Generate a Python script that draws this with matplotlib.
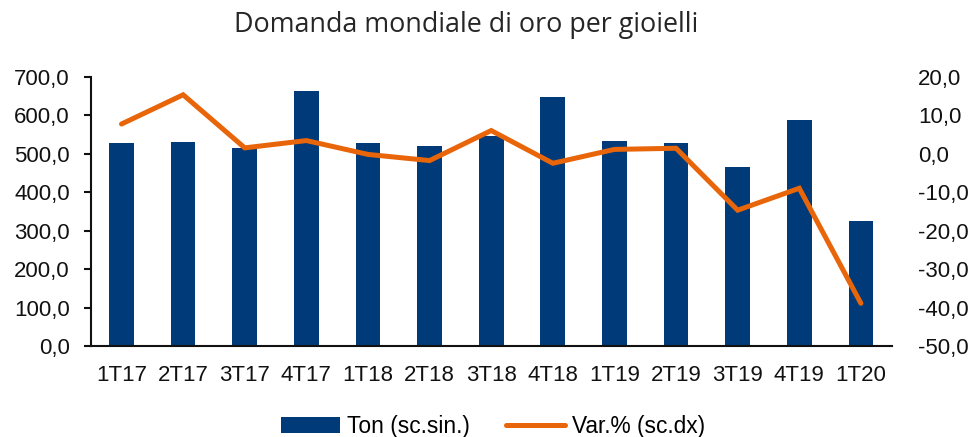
import matplotlib
matplotlib.use("Agg")
import matplotlib.pyplot as plt
from matplotlib.ticker import FuncFormatter

categories = ["1T17", "2T17", "3T17", "4T17", "1T18", "2T18", "3T18",
              "4T18", "1T19", "2T19", "3T19", "4T19", "1T20"]
ton = [527, 530, 515, 664, 527, 520, 545, 646, 532, 528, 464, 588, 325]
var_pct = [7.7, 15.3, 1.5, 3.4, -0.2, -1.8, 6.0, -2.5, 1.1, 1.4, -14.7, -9.0, -38.9]

NAVY = "#003A78"
ORANGE = "#E8650A"

plt.rcParams["font.family"] = ["Liberation Sans", "DejaVu Sans"]

W, H = 968, 437
fig = plt.figure(figsize=(W / 100, H / 100), dpi=100)
L, R, T, B = 90.7, 891.7, 76.7, 346
ax = fig.add_axes([L / W, 1 - B / H, (R - L) / W, (B - T) / H])
ax2 = ax.twinx()

x = list(range(len(categories)))
bars = ax.bar(x, ton, width=0.4, color=NAVY, label="Ton (sc.sin.)", zorder=2)
line, = ax2.plot(x, var_pct, color=ORANGE, lw=3.6, solid_capstyle="round",
                 solid_joinstyle="miter", label="Var.% (sc.dx)", zorder=3)

ax.set_xlim(-0.5, len(categories) - 0.5)
ax.set_ylim(0, 700)
ax.set_yticks(range(0, 701, 100))
ax2.set_ylim(-50, 20)
ax2.set_yticks(range(-50, 21, 10))

fmt = FuncFormatter(lambda v, p: f"{v:.1f}".replace(".", ","))
ax.yaxis.set_major_formatter(fmt)
ax2.yaxis.set_major_formatter(fmt)

ax.set_xticks(x)
ax.set_xticklabels(categories)

for a in (ax, ax2):
    for s in ("top", "right"):
        a.spines[s].set_visible(False)
ax2.spines["left"].set_visible(False)
ax2.spines["bottom"].set_visible(False)
ax.spines["left"].set_linewidth(1.5)
ax.spines["bottom"].set_linewidth(1.5)
ax.spines["left"].set_color("#111111")
ax.spines["bottom"].set_color("#111111")

ax.tick_params(axis="y", length=5, width=1.5, pad=10, labelsize=16, colors="#111111")
ax.tick_params(axis="x", length=0, pad=14, labelsize=16, colors="#111111")
ax2.tick_params(axis="y", length=0, pad=19, labelsize=16, colors="#111111")

ax.set_zorder(1)
ax2.set_zorder(2)
ax.patch.set_visible(False)
ax2.patch.set_visible(False)

fig.text(466 / W, 1 - 25 / H, "Domanda mondiale di oro per gioielli",
         ha="center", va="center", fontsize=19.4, color="#262626",
         family=["Open Sans", "DejaVu Sans"])

leg = fig.legend([bars, line], ["Ton (sc.sin.)", "Var.% (sc.dx)"],
                 loc="center", bbox_to_anchor=(493 / W, 1 - 426 / H), ncol=2,
                 frameon=False, fontsize=16.4, handlelength=2.6, handleheight=0.7,
                 columnspacing=1.6, handletextpad=0.3)
for lh in leg.get_lines():
    lh.set_solid_capstyle("round")

fig.savefig("out.png", dpi=100)
